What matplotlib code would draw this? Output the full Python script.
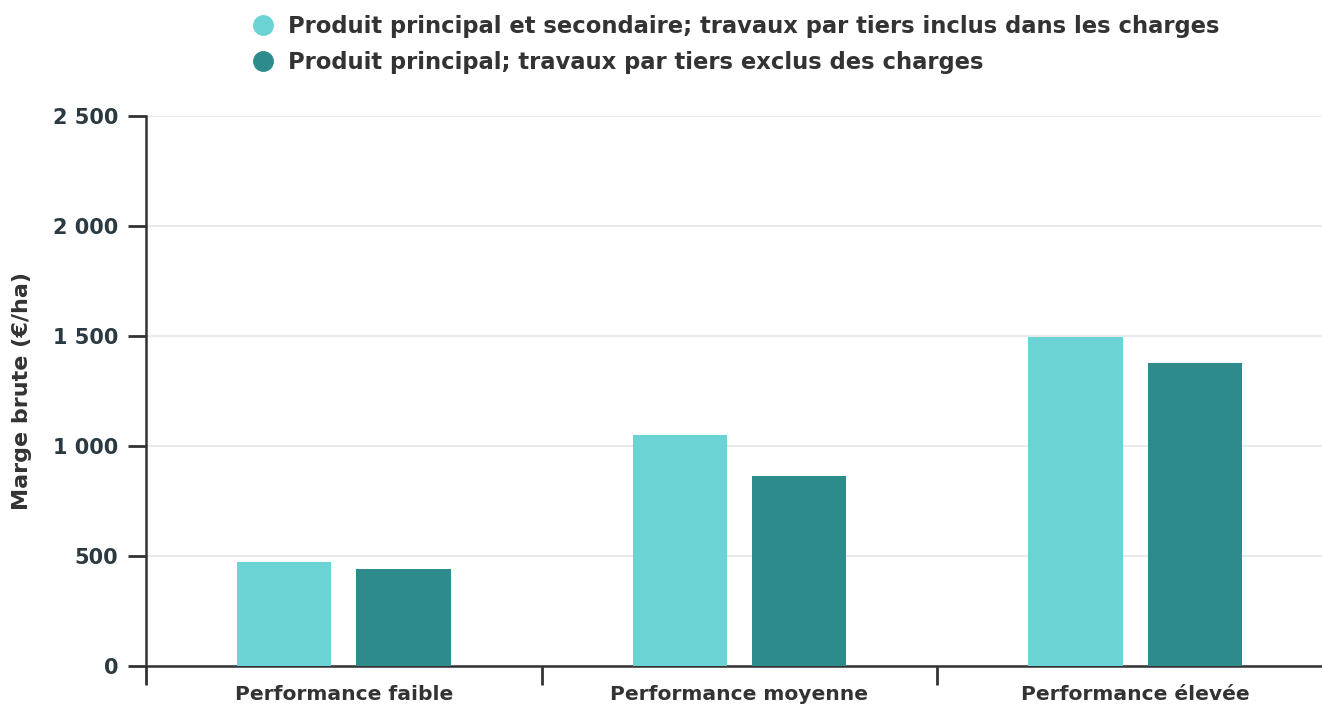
import matplotlib
matplotlib.use("Agg")
import matplotlib.pyplot as plt
import numpy as np
from matplotlib.lines import Line2D

categories = ["Performance faible", "Performance moyenne", "Performance élevée"]
series_names = ["Produit principal et secondaire; travaux par tiers inclus dans les charges",
                "Produit principal; travaux par tiers exclus des charges"]
values_incl = [474, 1052, 1495]
values_excl = [440, 865, 1376]
yticks = [0, 500, 1000, 1500, 2000, 2500]
ytick_labels = ["0", "500", "1 000", "1 500", "2 000", "2 500"]
colors = ["#6bd3d3", "#2d8c8b"]

plt.rcParams['font.family'] = ['DejaVu Sans']
fig = plt.figure(figsize=(13.22, 7.07), dpi=100)
W, H = 1322, 707
x0, x1 = 146, 1333
y0, y1 = 666, 116
ax = fig.add_axes([x0 / W, (H - y0) / H, (x1 - x0) / W, (y0 - y1) / H])

x = np.arange(len(categories))
bw = 0.238
off = 0.151
ax.bar(x - off, values_incl, bw, color=colors[0], zorder=3)
ax.bar(x + off, values_excl, bw, color=colors[1], zorder=3)

ax.set_xlim(-0.5, 2.5)
ax.set_ylim(0, 2500)
ax.set_yticks(yticks)
ax.set_yticklabels(ytick_labels)
ax.set_xticks([-0.5, 0.5, 1.5, 2.5])
ax.set_xticklabels([])
ax.set_xticks(x, minor=True)
ax.set_xticklabels(categories, minor=True)
ax.tick_params(axis='x', which='minor', length=0, pad=14)
ax.tick_params(axis='x', which='major', length=14, width=2, color="#333333")
ax.tick_params(axis='y', length=13, width=2, color="#333333", pad=7)
for lbl in ax.get_yticklabels():
    lbl.set_fontsize(15)
    lbl.set_fontweight('bold')
    lbl.set_color("#2b3a42")
for lbl in ax.get_xticklabels(minor=True):
    lbl.set_fontsize(14.6)
    lbl.set_fontweight('bold')
    lbl.set_color("#333333")

ax.grid(axis='y', color="#e6e6e6", linewidth=1.2, zorder=0)
for s in ['top', 'right']:
    ax.spines[s].set_visible(False)
for s in ['left', 'bottom']:
    ax.spines[s].set_color("#333333")
    ax.spines[s].set_linewidth(1.8)
ax.spines['left'].set_bounds(0, 2500)

ax.set_ylabel("Marge brute (€/ha)", fontsize=16, fontweight='bold', color="#333333")
ax.yaxis.set_label_coords(-(146 - 22) / (x1 - x0), 0.5)
ax.yaxis.label.set_verticalalignment('center')

handles = [Line2D([], [], marker='o', linestyle='none', markersize=14, markerfacecolor=c, markeredgecolor=c) for c in colors]
leg = fig.legend(handles, series_names, loc='upper left', bbox_to_anchor=(254 / W, 1 - 15 / H),
                 frameon=False, prop={'size': 16.3, 'weight': 'bold'}, handletextpad=0.7,
                 labelspacing=0.58, handlelength=0.8, borderaxespad=0, borderpad=0)
for t in leg.get_texts():
    t.set_color("#333333")

fig.savefig("out.png", dpi=100)
